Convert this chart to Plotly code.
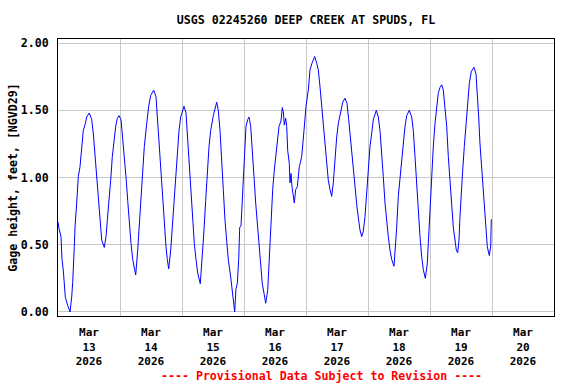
import pandas as pd
import plotly.graph_objects as go

title_text = "USGS 02245260 DEEP CREEK AT SPUDS, FL"
y_title = "Gage height, feet, [NGVD29]"
footer_text = "---- Provisional Data Subject to Revision ----"
start_time = "2026-03-13 00:00"

# hours after 2026-03-13 00:00
hours_after_start = [
    0.0, 0.39, 1.16, 1.55, 2.05, 2.44, 2.83, 3.75, 4.65, 5.30, 5.69, 6.31, 6.58, 7.24, 7.86,
    8.52, 9.17, 9.79, 10.57, 11.11, 12.12, 13.05, 13.66, 14.32, 14.98, 15.60, 16.26, 16.92,
    17.92, 18.58, 19.08, 19.86, 20.40, 21.02, 21.68, 22.34, 22.95, 23.61, 24.39, 25.05,
    25.66, 26.32, 26.98, 27.60, 28.26, 28.92, 30.08, 30.85, 31.47, 32.13, 32.79, 33.41,
    34.34, 35.11, 35.88, 37.05, 37.94, 38.59, 39.21, 39.87, 40.53, 41.15, 41.81, 42.31,
    42.85, 43.63, 44.25, 44.90, 45.56, 46.18, 46.84, 47.50, 48.77, 49.55, 50.21, 50.83,
    51.48, 52.14, 52.76, 53.42, 54.08, 55.08, 55.86, 56.52, 57.17, 57.79, 58.45, 59.11,
    60.12, 61.43, 62.05, 62.71, 63.37, 63.99, 64.65, 65.30, 65.92, 66.85, 67.63, 68.01,
    68.40, 68.90, 69.41, 69.95, 70.34, 70.84, 71.34, 71.73, 72.27, 72.77, 73.43, 73.94,
    74.59, 75.21, 75.87, 76.53, 77.15, 77.81, 78.46, 79.08, 79.74, 80.40, 81.18, 81.68,
    82.07, 82.57, 83.11, 83.73, 84.39, 84.89, 85.55, 86.32, 86.83, 87.21, 87.60, 88.14,
    88.53, 88.92, 89.53, 89.81, 90.19, 90.58, 91.08, 91.47, 92.01, 92.63, 93.41, 94.34,
    95.23, 96.00, 96.89, 97.55, 98.32, 99.37, 100.14, 100.76, 101.42, 102.08, 102.70,
    103.36, 104.01, 104.63, 105.29, 105.95, 106.57, 107.23, 107.88, 108.50, 109.43,
    110.21, 111.10, 111.87, 112.53, 113.15, 113.81, 114.47, 115.09, 115.74, 116.40,
    116.90, 117.56, 118.18, 118.84, 119.50, 120.12, 120.77, 121.43, 122.05, 123.21,
    123.99, 124.65, 125.30, 125.92, 126.58, 127.24, 127.86, 128.52, 129.17, 130.06,
    130.72, 131.11, 131.73, 132.39, 133.05, 133.67, 134.32, 134.98, 135.99, 136.92,
    137.54, 138.20, 138.86, 139.47, 140.13, 140.79, 141.41, 142.19, 142.96, 143.35,
    143.73, 144.28, 144.78, 145.28, 145.94, 146.60, 147.22, 147.87, 148.53, 149.15,
    149.81, 150.47, 151.09, 151.75, 152.40, 153.02, 153.68, 154.18, 154.73, 155.23,
    155.61, 156.12, 156.66, 157.28, 157.94, 158.60, 159.22, 159.99, 161.03, 161.81,
    162.31, 162.85, 163.35, 164.01, 164.63, 165.17, 165.68, 166.18, 166.95, 167.50, 167.73,
]

gage_height_ft = [
    0.67, 0.62, 0.56, 0.39, 0.31, 0.20, 0.11, 0.05, 0.00, 0.11, 0.22, 0.485, 0.63, 0.81, 1.006,
    1.08, 1.23, 1.35, 1.40, 1.45, 1.48, 1.43, 1.33, 1.155, 1.006, 0.81, 0.66, 0.535,
    0.48, 0.56, 0.68, 0.83, 0.98, 1.155, 1.28, 1.38, 1.44, 1.46, 1.43, 1.30,
    1.155, 1.006, 0.83, 0.66, 0.51, 0.39, 0.275, 0.46, 0.63, 0.86, 1.055, 1.23,
    1.40, 1.53, 1.61, 1.65, 1.60, 1.40, 1.20, 1.006, 0.81, 0.63, 0.485, 0.39,
    0.32, 0.46, 0.63, 0.86, 1.055, 1.23, 1.35, 1.45, 1.53, 1.48, 1.28, 1.055,
    0.83, 0.66, 0.51, 0.39, 0.29, 0.21, 0.39, 0.61, 0.83, 1.055, 1.23, 1.35,
    1.46, 1.56, 1.50, 1.35, 1.155, 0.91, 0.68, 0.51, 0.39, 0.26, 0.14, 0.10,
    0.00, 0.175, 0.21, 0.39, 0.63, 0.64, 0.84, 0.91, 1.22, 1.38, 1.43, 1.45,
    1.38, 1.23, 1.006, 0.81, 0.66, 0.51, 0.36, 0.21, 0.14, 0.065, 0.16, 0.36,
    0.535, 0.71, 0.91, 1.055, 1.18, 1.30, 1.38, 1.42, 1.52, 1.49, 1.39, 1.44,
    1.38, 1.20, 1.105, 0.96, 1.03, 0.93, 0.85, 0.81, 0.91, 0.93, 1.08, 1.155,
    1.35, 1.53, 1.65, 1.80, 1.85, 1.90, 1.85, 1.80, 1.675, 1.53, 1.40,
    1.25, 1.105, 0.98, 0.91, 0.86, 0.96, 1.155, 1.30, 1.40, 1.50,
    1.56, 1.59, 1.55, 1.43, 1.30, 1.155, 1.03, 0.88, 0.78, 0.68,
    0.61, 0.56, 0.60, 0.71, 0.91, 1.08, 1.23, 1.33, 1.43, 1.50,
    1.45, 1.35, 1.20, 1.006, 0.81, 0.66, 0.56, 0.46, 0.39, 0.34,
    0.485, 0.63, 0.86, 1.006, 1.13, 1.25, 1.38, 1.46, 1.50, 1.45,
    1.35, 1.155, 0.93, 0.73, 0.56, 0.41, 0.315, 0.25, 0.36, 0.51,
    0.66, 0.88, 1.08, 1.23, 1.40, 1.53, 1.63, 1.67, 1.69, 1.65,
    1.53, 1.38, 1.155, 0.96, 0.78, 0.63, 0.535, 0.46, 0.44, 0.535,
    0.71, 0.91, 1.055, 1.23, 1.40, 1.58, 1.70, 1.79, 1.82, 1.77,
    1.65, 1.45, 1.25, 1.055, 0.88, 0.73, 0.61, 0.485, 0.42, 0.49, 0.69,
]

y_ticks = [0.0, 0.5, 1.0, 1.5, 2.0]
x_range = ["2026-03-13 00:00", "2026-03-21 00:00"]

times = pd.Timestamp(start_time) + pd.to_timedelta(hours_after_start, unit="h")

font_family = "DejaVu Sans Mono"
fsize = 11.6

fig = go.Figure()
fig.add_trace(go.Scatter(
    x=times, y=gage_height_ft, mode="lines",
    line=dict(color="#0000ff", width=1),
    showlegend=False, hoverinfo="skip",
))

fig.update_layout(
    width=576, height=384,
    margin=dict(l=58, r=22, t=39, b=68, autoexpand=False),
    paper_bgcolor="white", plot_bgcolor="white",
    font=dict(family=font_family, size=fsize, color="black"),
    title=dict(text="<b>" + title_text + "</b>", x=306 / 576, xanchor="center",
               y=1 - 20 / 384, yanchor="middle",
               font=dict(family=font_family, size=fsize, color="black")),
    xaxis=dict(
        range=x_range, type="date", automargin=False,
        tick0="2026-03-13", dtick=86400000,
        ticklabelmode="period", tickformat="<b>%b</b><br><b>%d</b><br><b>%Y</b>",
        showgrid=True, gridcolor="#c8c8c8", gridwidth=1,
        showline=True, linecolor="black", linewidth=1, mirror=True,
        ticks="", zeroline=False, ticklabelstandoff=6,
        tickfont=dict(family=font_family, size=11, color="black"),
    ),
    yaxis=dict(
        range=[-0.03, 2.03], tickvals=y_ticks, automargin=False,
        ticktext=["<b>%.2f</b>" % v for v in y_ticks],
        showgrid=True, gridcolor="#c8c8c8", gridwidth=1,
        showline=True, linecolor="black", linewidth=1, mirror=True,
        ticks="", zeroline=False, ticklabelstandoff=6,
        title=dict(text="<b>" + y_title + "</b>", standoff=0,
                   font=dict(family=font_family, size=fsize, color="black")),
        tickfont=dict(family=font_family, size=fsize, color="black"),
    ),
    annotations=[dict(
        text="<b>" + footer_text + "</b>", xref="paper", yref="paper",
        x=306 / 576, y=-60 / 277, xanchor="center", yanchor="middle", showarrow=False,
        font=dict(family=font_family, size=fsize, color="red"),
    )],
)

fig.write_html("out.html", config={"displayModeBar": False},
               post_script="document.body.style.margin='0';")
